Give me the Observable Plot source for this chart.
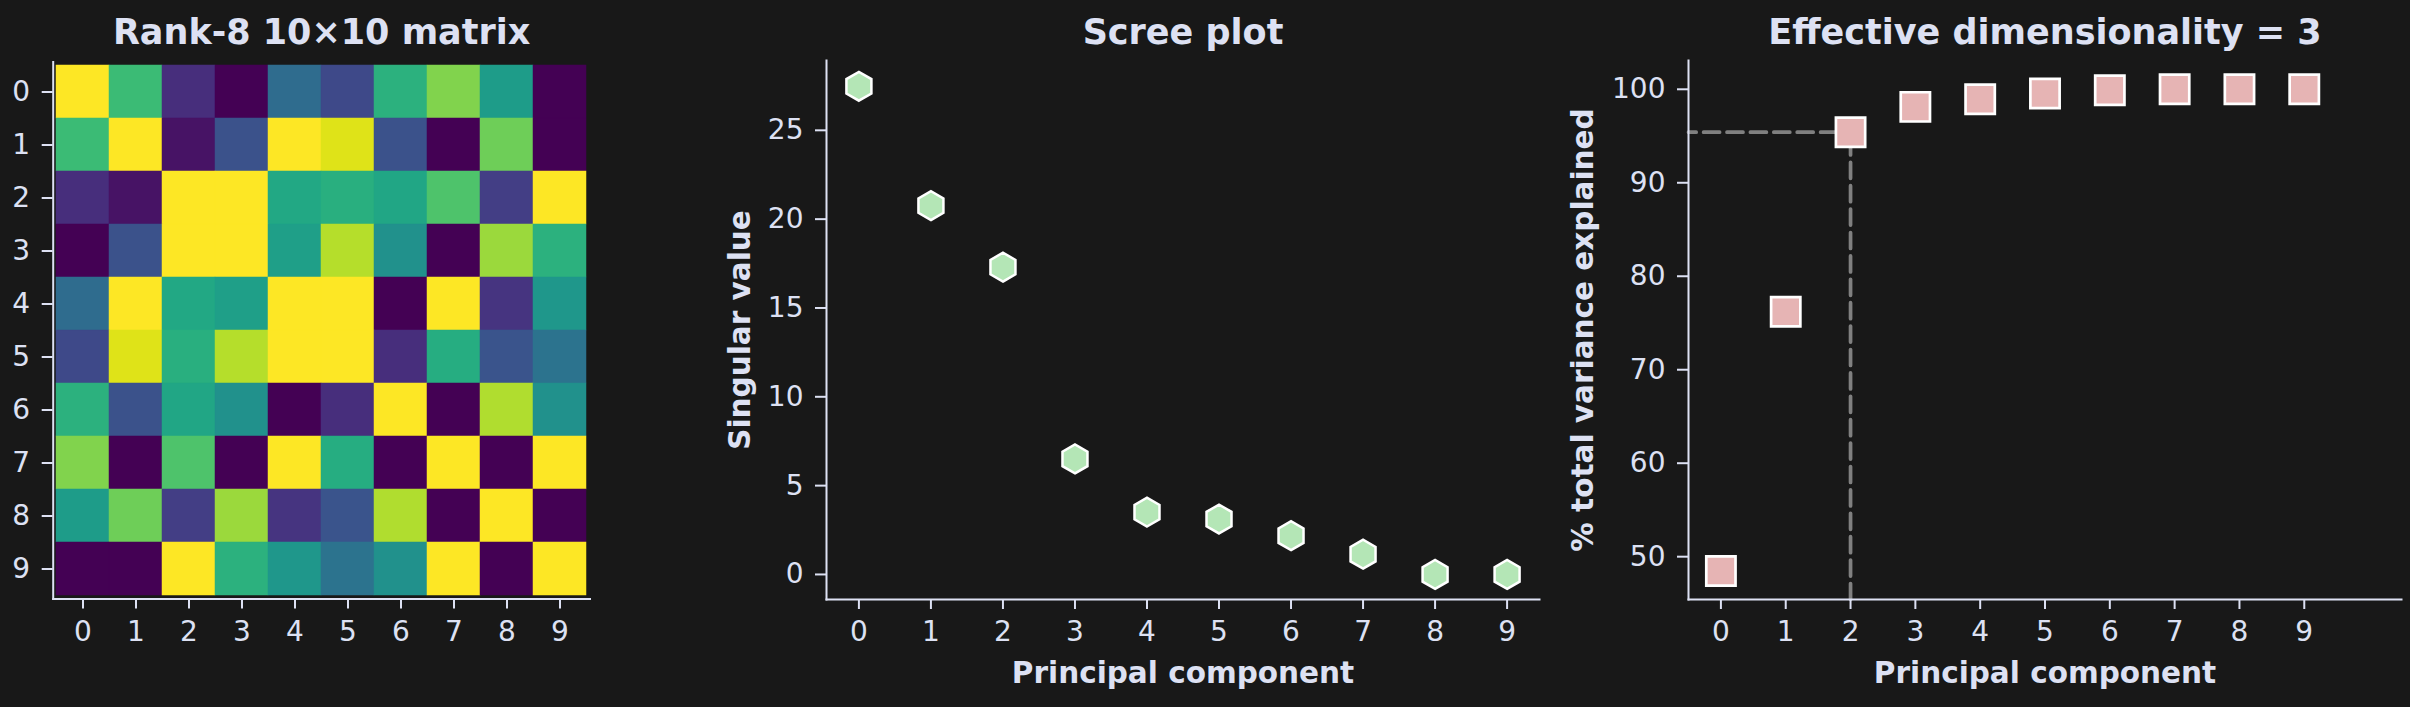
<!DOCTYPE html>
<html>
<head>
<meta charset="utf-8">
<script src="https://cdn.jsdelivr.net/npm/d3@7"></script>
<script src="https://cdn.jsdelivr.net/npm/@observablehq/plot@0.6"></script>
<style>
html, body { margin: 0; padding: 0; background: #181818; }
#wrap { position: relative; width: 2410px; height: 707px; background: #181818; overflow: hidden; }
#wrap svg { position: absolute; top: 0; max-width: none; }
g[aria-label="x-axis label"], g[aria-label="y-axis label"] { font-size: 29.5px; font-weight: bold; }
</style>
</head>
<body>
<div id="wrap"></div>
<script>
// ---------- data ----------
const components = [0, 1, 2, 3, 4, 5, 6, 7, 8, 9];

// normalised colour values of the 10x10 matrix (viridis, 0..1), row by row
const matrixRow0 = [1.00, 0.68, 0.13, 0.00, 0.35, 0.22, 0.64, 0.81, 0.55, 0.00];
const matrixRow1 = [0.68, 1.00, 0.05, 0.25, 1.00, 0.95, 0.25, 0.00, 0.78, 0.00];
const matrixRow2 = [0.13, 0.05, 1.00, 1.00, 0.60, 0.63, 0.59, 0.72, 0.18, 1.00];
const matrixRow3 = [0.00, 0.25, 1.00, 1.00, 0.56, 0.89, 0.50, 0.00, 0.85, 0.64];
const matrixRow4 = [0.35, 1.00, 0.60, 0.56, 1.00, 1.00, 0.00, 1.00, 0.15, 0.53];
const matrixRow5 = [0.22, 0.95, 0.63, 0.89, 1.00, 1.00, 0.13, 0.62, 0.26, 0.38];
const matrixRow6 = [0.64, 0.25, 0.59, 0.50, 0.00, 0.13, 1.00, 0.00, 0.88, 0.50];
const matrixRow7 = [0.81, 0.00, 0.72, 0.00, 1.00, 0.62, 0.00, 1.00, 0.00, 1.00];
const matrixRow8 = [0.55, 0.78, 0.18, 0.85, 0.15, 0.26, 0.88, 0.00, 1.00, 0.00];
const matrixRow9 = [0.00, 0.00, 1.00, 0.64, 0.53, 0.38, 0.50, 1.00, 0.00, 1.00];
const matrixRows = [matrixRow0, matrixRow1, matrixRow2, matrixRow3, matrixRow4,
                    matrixRow5, matrixRow6, matrixRow7, matrixRow8, matrixRow9];

const singularValues = [27.48, 20.76, 17.30, 6.50, 3.51, 3.12, 2.18, 1.14, 0.00, 0.00];
const cumVariance = [48.46, 76.20, 95.41, 98.12, 98.94, 99.56, 99.90, 100.0, 100.0, 100.0];
const effectiveDim = 3;

const screeYTicks = [0, 5, 10, 15, 20, 25];
const varYTicks = [50, 60, 70, 80, 90, 100];

const title1 = "Rank-8 10\u00d710 matrix";
const title2 = "Scree plot";
const title3 = "Effective dimensionality = " + effectiveDim;
const xLabel = "Principal component";
const yLabel2 = "Singular value";
const yLabel3 = "% total variance explained";

// ---------- styles ----------
const textColor = "#dde1f3";
const baseStyle = {
  background: "transparent",
  color: textColor,
  fontFamily: "'DejaVu Sans', sans-serif",
  fontSize: "28px",
  overflow: "visible"
};
const wrap = document.getElementById("wrap");
function place(svg, left) { svg.style.left = left + "px"; wrap.appendChild(svg); }
function titleMark(t, dy) {
  return Plot.text([t], {frameAnchor: "top", dy, lineAnchor: "bottom", fontSize: 35, fontWeight: "bold", text: d => d});
}

// ---------- chart 1: heatmap ----------
const cells = [];
matrixRows.forEach((row, i) => row.forEach((v, j) => cells.push({row: i, col: j, v})));

const p1 = Plot.plot({
  width: 680, height: 707,
  marginLeft: 52.7, marginRight: 90.5, marginTop: 61.5, marginBottom: 108.5,
  style: baseStyle,
  x: {type: "band", domain: components, padding: 0},
  y: {type: "band", domain: components, padding: 0},
  color: {type: "linear", scheme: "viridis", domain: [0, 1]},
  marks: [
    Plot.cell(cells, {x: "col", y: "row", fill: "v", stroke: "v", strokeWidth: 0.5, inset: 0}),
    Plot.frame({anchor: "left", strokeWidth: 2}),
    Plot.frame({anchor: "bottom", strokeWidth: 2}),
    Plot.axisX({tickSize: 10, tickPadding: 12, strokeWidth: 2, label: null}),
    Plot.axisY({tickSize: 11, tickPadding: 12, strokeWidth: 2, label: null}),
    titleMark(title1, -18.5)
  ]
});
place(p1, 0);

// ---------- chart 2: scree plot ----------
const screeData = components.map((c, i) => ({pc: c, s: singularValues[i]}));
const p2 = Plot.plot({
  width: 880, height: 707,
  marginLeft: 146, marginRight: 21, marginTop: 60, marginBottom: 108,
  style: baseStyle,
  x: {domain: [-0.45, 9.45]},
  y: {domain: [-1.41, 28.93]},
  marks: [
    Plot.frame({anchor: "left", strokeWidth: 2}),
    Plot.frame({anchor: "bottom", strokeWidth: 2}),
    Plot.axisX({ticks: components, tickSize: 10, tickPadding: 12, strokeWidth: 2,
      label: xLabel, labelAnchor: "center", labelOffset: 83, labelArrow: "none"}),
    Plot.axisY({ticks: screeYTicks, tickSize: 11, tickPadding: 12, strokeWidth: 2,
      label: yLabel2, labelAnchor: "center", labelOffset: 97, labelArrow: "none"}),
    Plot.dot(screeData, {x: "pc", y: "s", symbol: "hexagon", r: 12.5, fill: "#b4e6b6", stroke: "white", strokeWidth: 2.5}),
    titleMark(title2, -17)
  ]
});
place(p2, 680);

// ---------- chart 3: cumulative variance ----------
const varData = components.map((c, i) => ({pc: c, v: cumVariance[i]}));
const x3Domain = [-0.5, 10.5];
const y3Domain = [45.42, 103.08];
const thrX = effectiveDim - 1;
const thrY = cumVariance[effectiveDim - 1];
const hLine = [{x: x3Domain[0], y: thrY}, {x: thrX, y: thrY}];
const vLine = [{x: thrX, y: y3Domain[0]}, {x: thrX, y: thrY}];

const p3 = Plot.plot({
  width: 870, height: 707,
  marginLeft: 148, marginRight: 9, marginTop: 60, marginBottom: 108,
  style: baseStyle,
  x: {domain: x3Domain},
  y: {domain: y3Domain},
  marks: [
    Plot.line(hLine, {x: "x", y: "y", stroke: "#808080", strokeWidth: 3.7, strokeDasharray: "16,7.4", strokeDashoffset: 8.3}),
    Plot.line(vLine, {x: "x", y: "y", stroke: "#808080", strokeWidth: 3.7, strokeDasharray: "16,7.4"}),
    Plot.frame({anchor: "left", strokeWidth: 2}),
    Plot.frame({anchor: "bottom", strokeWidth: 2}),
    Plot.axisX({ticks: components, tickSize: 10, tickPadding: 12, strokeWidth: 2,
      label: xLabel, labelAnchor: "center", labelOffset: 83, labelArrow: "none"}),
    Plot.axisY({ticks: varYTicks, tickSize: 11, tickPadding: 12, strokeWidth: 2,
      label: yLabel3, labelAnchor: "center", labelOffset: 116, labelArrow: "none"}),
    Plot.dot(varData, {x: "pc", y: "v", symbol: "square", r: 16.5, fill: "#e6b4b4", stroke: "white", strokeWidth: 2.7}),
    titleMark(title3, -17)
  ]
});
place(p3, 1540);
</script>
</body>
</html>
